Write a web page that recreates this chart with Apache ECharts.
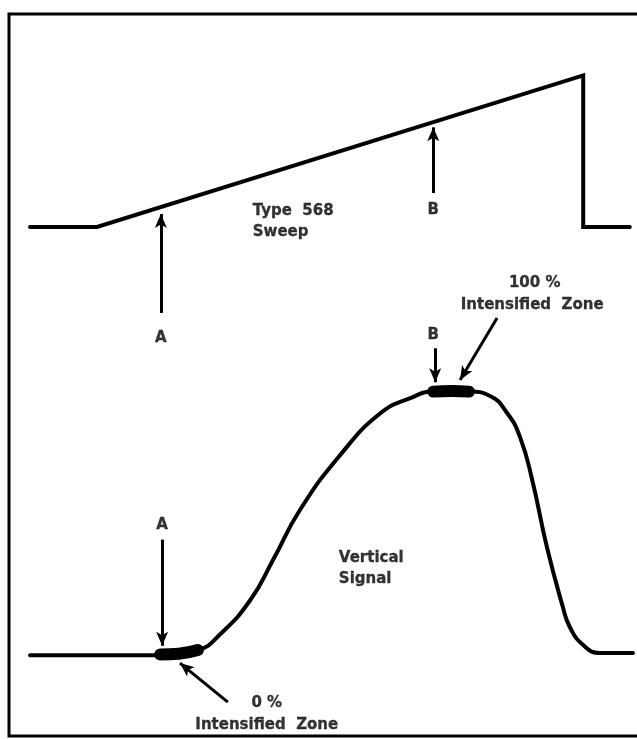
<!DOCTYPE html>
<html>
<head>
<meta charset="utf-8">
<script src="https://cdn.jsdelivr.net/npm/echarts@6/dist/echarts.min.js"></script>
<style>
html,body{margin:0;padding:0;background:#fff;overflow:hidden;}
#chart{width:652px;height:739px;}
</style>
</head>
<body>
<div id="chart"></div>
<script>
// ---- data (time in % of frame width, level in % of frame height) ----
var sweepTime  = [3.3, 13.8, 90.0, 90.0, 97.3];
var sweepLevel = [70.5, 70.5, 91.5, 70.5, 70.5];

var signalTime  = [3.3, 23.7, 29.6, 33.1, 37.8, 41.4, 45.6, 51.9, 58.2, 62.9, 66.5, 72.1, 75.4, 78.1, 80.1, 82.0, 84.3, 86.8, 87.9, 90.0, 92.6, 97.8];
var signalLevel = [11.2, 11.2, 11.9, 14.1, 18.8, 24.4, 31.3, 38.9, 44.7, 46.8, 47.7, 47.7, 47.1, 44.7, 41.4, 35.5, 26.2, 17.9, 15.1, 12.6, 11.5, 11.5];

// intensified zones (start/end time on the signal)
var zone0Time  = [23.7, 26.6, 29.6];
var zone0Level = [11.3, 11.4, 11.9];
var zone100Time  = [66.5, 69.3, 72.1];
var zone100Level = [47.7, 47.8, 47.7];

// ---- annotations ----
var arrows = [
  {from: [23.8, 58.6], to: [23.8, 72.3]},   // sweep A
  {from: [66.5, 75.2], to: [66.5, 84.3]},   // sweep B
  {from: [24.0, 27.2], to: [24.0, 12.5]},   // signal A
  {from: [66.8, 53.7], to: [66.8, 49.0]},   // signal B
  {from: [76.5, 57.9], to: [70.7, 49.3]},   // 100% zone
  {from: [34.3, 4.7],  to: [26.8, 10.1]}    // 0% zone
];
var labels = [
  {text: 'A', at: [23.8, 55.1], align: 'center'},
  {text: 'B', at: [66.5, 72.85], align: 'center'},
  {text: 'Type  568', at: [38.2, 72.7], align: 'left'},
  {text: 'Sweep', at: [38.2, 69.8], align: 'left'},
  {text: '100 %', at: [82.4, 62.7], align: 'center'},
  {text: 'Intensified  Zone', at: [82.0, 59.7], align: 'center'},
  {text: 'B', at: [66.5, 55.5], align: 'center'},
  {text: 'A', at: [24.0, 29.2], align: 'center'},
  {text: 'Vertical', at: [51.7, 24.6], align: 'left'},
  {text: 'Signal', at: [51.7, 21.7], align: 'left'},
  {text: '0 %', at: [40.4, 4.5], align: 'center'},
  {text: 'Intensified  Zone', at: [40.4, 1.5], align: 'center'}
];

function zip(a, b) { return a.map(function (v, i) { return [v, b[i]]; }); }

var fontFamily = 'DejaVu Sans';
var chart = echarts.init(document.getElementById('chart'), null, {renderer: 'canvas'});
chart.setOption({
  animation: false,
  backgroundColor: '#fff',
  grid: {left: 9, top: 14, width: 638, height: 722, show: true, borderColor: '#000', borderWidth: 3, backgroundColor: 'transparent'},
  xAxis: {type: 'value', min: 0, max: 100, show: false},
  yAxis: {type: 'value', min: 0, max: 100, show: false},
  series: [
    {
      type: 'line', data: zip(sweepTime, sweepLevel), showSymbol: false, silent: true,
      lineStyle: {color: '#000', width: 4, join: 'miter', cap: 'round'}
    },
    {
      type: 'line', data: zip(signalTime, signalLevel), showSymbol: false, silent: true,
      smooth: 0.5,
      lineStyle: {color: '#000', width: 4, cap: 'round'}
    },
    {
      type: 'line', data: zip(zone0Time, zone0Level), showSymbol: false, silent: true, smooth: true,
      lineStyle: {color: '#000', width: 12, cap: 'round'}
    },
    {
      type: 'line', data: zip(zone100Time, zone100Level), showSymbol: false, silent: true, smooth: true,
      lineStyle: {color: '#000', width: 12, cap: 'round'},
      markLine: {
        silent: true, animation: false,
        symbol: ['none', 'arrow'], symbolSize: [9, 14],
        label: {show: false},
        lineStyle: {color: '#000', width: 3, type: 'solid'},
        data: arrows.map(function (a) { return [{coord: a.from}, {coord: a.to}]; })
      }
    },
    {
      type: 'scatter', symbolSize: 0, silent: true,
      data: labels.map(function (l) {
        return {
          value: l.at,
          label: {
            show: true, position: 'inside', formatter: l.text, align: l.align, verticalAlign: 'middle',
            color: '#000', textBorderColor: '#000', textBorderWidth: 0.3,
            fontFamily: fontFamily, fontWeight: 'bold', fontSize: 15
          }
        };
      })
    }
  ]
});
</script>
</body>
</html>
